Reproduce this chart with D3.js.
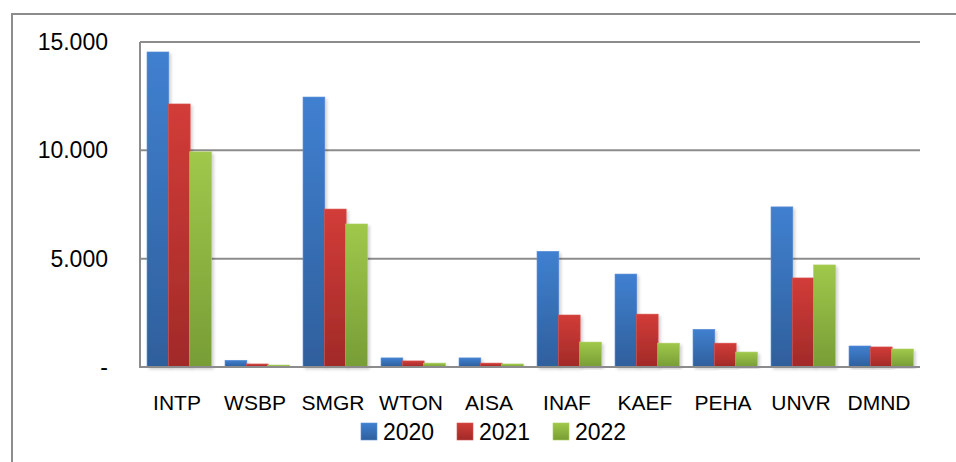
<!DOCTYPE html>
<html>
<head>
<meta charset="utf-8">
<script src="https://cdn.jsdelivr.net/npm/d3@7"></script>
<style>
  body { margin: 0; background: #fff; }
  svg { display: block; font-family: "Liberation Sans", Arial, sans-serif; }
</style>
</head>
<body>
<svg width="956" height="462"></svg>
<script>
// data
var categories = ["INTP", "WSBP", "SMGR", "WTON", "AISA", "INAF", "KAEF", "PEHA", "UNVR", "DMND"];
var seriesNames = ["2020", "2021", "2022"];
var values2020 = [14540, 310, 12460, 420, 420, 5340, 4290, 1740, 7390, 970];
var values2021 = [12140, 140, 7290, 280, 180, 2400, 2440, 1100, 4110, 925];
var values2022 = [9930, 90, 6600, 180, 140, 1150, 1100, 690, 4710, 830];
var yTicks = [0, 5000, 10000, 15000];

var colors = {
	"2020": {top: "#4080d0", bottom: "#2f5f9c", edge: "#5b8fd6"},
	"2021": {top: "#d23c38", bottom: "#a12a28", edge: "#d85350"},
	"2022": {top: "#a0c84a", bottom: "#779d36", edge: "#aacd5c"}
};

var layout = {left: 140, right: 920, top: 42, bottom: 367};

var svg = d3.select("svg");
var defs = svg.append("defs");

// vertical gradients for the bars and legend keys
seriesNames.forEach(function(s){
	var g = defs.append("linearGradient")
		.attr("id", "grad" + s)
		.attr("x1", 0).attr("y1", 0).attr("x2", 0).attr("y2", 1);
	g.append("stop").attr("offset", "0%").attr("stop-color", colors[s].top);
	g.append("stop").attr("offset", "100%").attr("stop-color", colors[s].bottom);
});

var shadow = defs.append("filter").attr("id", "shadow")
	.attr("x", "-20%").attr("y", "-5%").attr("width", "150%").attr("height", "115%");
shadow.append("feDropShadow")
	.attr("dx", 2).attr("dy", 2).attr("stdDeviation", 1.5)
	.attr("flood-color", "#000").attr("flood-opacity", 0.18);

// outer chart border (top and left visible in the reference)
svg.append("path")
	.attr("d", "M12,470 L12,14 L960,14")
	.attr("fill", "none")
	.attr("stroke", "#8c8c8c")
	.attr("stroke-width", 2);

var x0 = d3.scaleBand()
	.domain(categories)
	.range([layout.left, layout.right])
	.paddingInner(0.18)
	.paddingOuter(0.09);

var x1 = d3.scaleBand()
	.domain(seriesNames)
	.range([0, x0.bandwidth()]);

var y = d3.scaleLinear()
	.domain([0, 15000])
	.range([layout.bottom, layout.top]);

// gridlines
svg.append("g").selectAll("line")
	.data(yTicks)
	.enter().append("line")
	.attr("x1", layout.left)
	.attr("x2", layout.right)
	.attr("y1", function(d){ return y(d); })
	.attr("y2", function(d){ return y(d); })
	.attr("stroke", "#8c8c8c")
	.attr("stroke-width", 2);

// left axis line
svg.append("line")
	.attr("x1", layout.left).attr("x2", layout.left)
	.attr("y1", layout.top).attr("y2", layout.bottom + 1)
	.attr("stroke", "#8c8c8c")
	.attr("stroke-width", 2);

// y tick labels
var fmt = function(d){
	if (d == 0) return "-";
	return d3.format(",")(d).replace(/,/g, ".");
};
svg.append("g").selectAll("text")
	.data(yTicks)
	.enter().append("text")
	.attr("x", 108)
	.attr("y", function(d){ return y(d); })
	.attr("dy", "0.35em")
	.attr("text-anchor", "end")
	.attr("font-size", 23)
	.attr("fill", "#000")
	.text(fmt);

// bars
var rows = categories.map(function(c, i){
	return {cat: c, vals: [
		{s: "2020", v: values2020[i]},
		{s: "2021", v: values2021[i]},
		{s: "2022", v: values2022[i]}
	]};
});

var groups = svg.append("g").attr("id", "bars")
	.selectAll("g")
	.data(rows)
	.enter().append("g")
	.attr("transform", function(d){ return "translate(" + x0(d.cat) + ",0)"; });

groups.selectAll("rect")
	.data(function(d){ return d.vals; })
	.enter().append("rect")
	.attr("x", function(d){ return x1(d.s); })
	.attr("y", function(d){ return y(d.v); })
	.attr("width", x1.bandwidth() + 0.5)
	.attr("height", function(d){ return y(0) - y(d.v); })
	.attr("fill", function(d){ return "url(#grad" + d.s + ")"; })
	.attr("stroke", function(d){ return colors[d.s].edge; })
	.attr("stroke-width", 0.6)
	.attr("filter", "url(#shadow)");

// redraw baseline above bars
svg.append("line")
	.attr("x1", layout.left).attr("x2", layout.right)
	.attr("y1", y(0)).attr("y2", y(0))
	.attr("stroke", "#8c8c8c")
	.attr("stroke-width", 2);

// category labels
svg.append("g").selectAll("text")
	.data(categories)
	.enter().append("text")
	.attr("x", function(d){ return x0(d) + x0.bandwidth() / 2 - 2; })
	.attr("y", 410)
	.attr("text-anchor", "middle")
	.attr("font-size", 21)
	.attr("fill", "#000")
	.text(function(d){ return d; });

// legend
var legendX = [361, 457, 553];
var legend = svg.append("g").selectAll("g")
	.data(seriesNames)
	.enter().append("g")
	.attr("transform", function(d, i){ return "translate(" + legendX[i] + ",423)"; });

legend.append("rect")
	.attr("width", 16)
	.attr("height", 17)
	.attr("fill", function(d){ return "url(#grad" + d + ")"; })
	.attr("stroke", function(d){ return colors[d].edge; })
	.attr("stroke-width", 0.6);

legend.append("text")
	.attr("x", 22)
	.attr("y", 17)
	.attr("font-size", 23)
	.attr("fill", "#000")
	.text(function(d){ return d; });
</script>
</body>
</html>
